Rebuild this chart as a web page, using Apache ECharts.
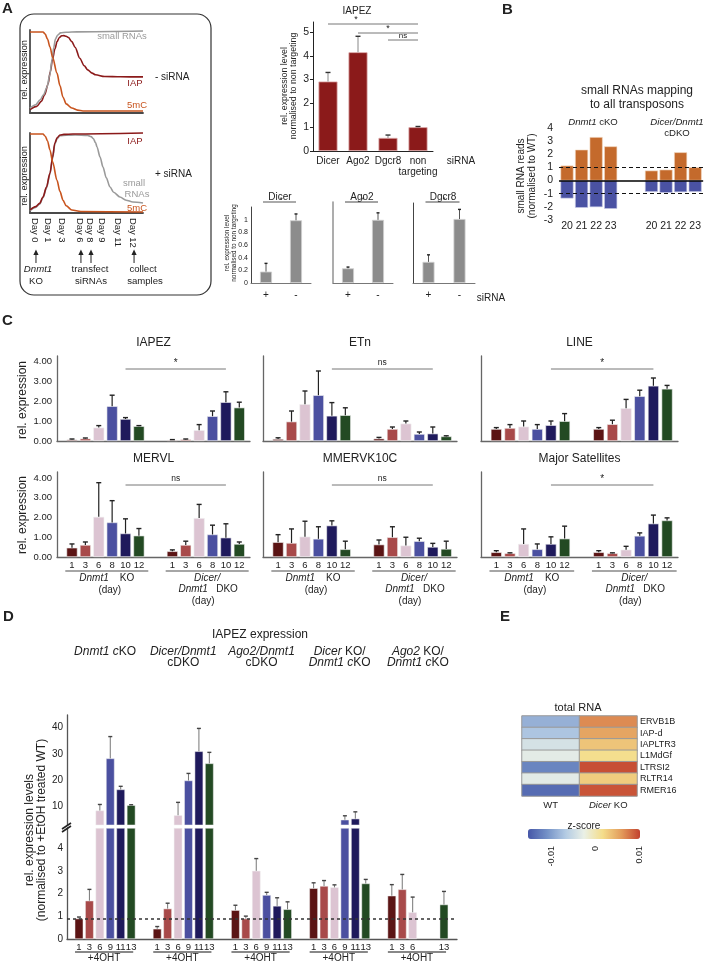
<!DOCTYPE html>
<html>
<head>
<meta charset="utf-8">
<script src="https://cdn.jsdelivr.net/npm/echarts@6.0.0/dist/echarts.min.js"></script>
<style>
html,body{margin:0;padding:0;background:#fff;}
#c{width:704px;height:964px;}
</style>
</head>
<body>
<div id="c"></div>
<script>
// ================= DATA =================
// Panel A schematic curves (x: 0-100 along timeline, y: 0-100 rel. expression)
const schemTopIAP   = [[0,4],[6,8],[10,14],[13,22],[16,35],[18,50],[20,65],[22,77],[24,86],[26,91],[28,93],[30,93.2],[32,92.5],[34,91],[37,86],[40,79],[44,66],[48,57],[51,52],[55,48],[58,46],[66,44],[80,43.6],[100,43.5]];
const schemTopSmall = [[0,6],[5,10],[9,16],[12,22],[15,31],[17.5,46],[19.5,64],[21,79],[22.5,89],[24.5,94],[27,96.5],[32,97.3],[41.6,97.8],[100,98.8]];
const schemTop5mC   = [[0,97.6],[11.5,97.6],[13.5,95],[15.5,89],[17.7,79.5],[20,67],[23.9,48],[26.5,33],[29.2,19],[32,11],[37,6],[42,3.5],[46.9,2.4],[100,2.4]];
const schemBotSmall = [[0,3],[5,7],[8.5,11],[11.5,19],[14.5,31],[17.7,49],[20,68],[22,86],[24,93],[26.5,96.5],[32,97.3],[40,97.5],[51,97],[54,95.5],[56,93],[58,88],[59.3,82.5],[62,70],[64.6,57.5],[67.5,44],[70.8,32.5],[74,26],[79.6,20],[85,16],[91,13.75],[100,12.5]];
const schemBotIAP   = [[0,3.75],[5,8],[8.5,12],[11.5,20],[14.5,32],[17.7,50],[20,70],[22,87.5],[24,94],[26.5,97.5],[30,98.3],[38,98.75],[100,100]];
const schemBot5mC   = [[0,98.75],[11.5,98.75],[13.5,96],[15.5,90],[17.7,78.75],[20,64],[23.9,41],[26.5,27],[29.2,16],[32,9],[37,3.75],[45,1.8],[100,1.25]];
const schemDays     = ['Day 0','Day 1','Day 3','Day 6','Day 8','Day 9','Day 11','Day 12'];
const schemDayPos   = [4.4,15.9,28.3,44.2,53.1,63.7,77.9,91.2];
const schemArrowDays = [0,3,4,7];

// Panel A siRNA knockdown
const aCats = ['Dicer','Ago2','Dgcr8','non\ntargeting'];
const aVals = [2.92,4.15,0.55,1.00];
const aErr  = [3.30,4.82,0.67,1.03];
const aSig  = ['*','*','ns'];
const aTicks = [0,1,2,3,4,5];
const kdCats = ['+','-'];
const kdTitles = ['Dicer','Ago2','Dgcr8'];
const kdDicer = [0.18,0.99], kdDicerErr = [0.31,1.09];
const kdAgo2  = [0.23,0.99], kdAgo2Err  = [0.25,1.10];
const kdDgcr8 = [0.33,1.00], kdDgcr8Err = [0.44,1.15];
const kdTicks = [0,0.2,0.4,0.6,0.8,1];

// Panel B
const bLen = ['20','21','22','23'];
const bDnmtUp   = [1.14,2.35,3.31,2.60];
const bDnmtDown = [-1.36,-2.07,-2.02,-2.15];
const bDicerUp   = [0.76,0.83,2.15,1.01];
const bDicerDown = [-0.86,-0.93,-0.88,-0.86];
const bThreshold = [1,-1];

// Panel C
const cDays   = ['1','3','6','8','10','12'];
const cTitles = ['IAPEZ','ETn','LINE','MERVL','MMERVK10C','Major Satellites'];
const cSig    = ['*','ns','*','ns','ns','*'];
const iapezKO  = [0.07,0.12,0.67,1.74,1.10,0.74], iapezKOErr  = [0.10,0.15,0.77,2.29,1.17,0.77];
const iapezDKO = [0.05,0.08,0.54,1.24,1.94,1.67], iapezDKOErr = [0.07,0.10,0.82,1.50,2.46,1.94];
const etnKO    = [0.10,0.97,1.84,2.29,1.26,1.29], etnKOErr    = [0.16,1.50,2.50,3.50,1.92,1.66];
const etnDKO   = [0.12,0.60,0.87,0.35,0.37,0.23], etnDKOErr   = [0.18,0.70,1.00,0.45,0.70,0.26];
const lineKO   = [0.60,0.65,0.72,0.60,0.79,0.99], lineKOErr   = [0.67,0.82,1.00,0.82,1.00,1.37];
const lineDKO  = [0.60,0.84,1.64,2.24,2.76,2.61], lineDKOErr  = [0.67,1.04,2.08,2.54,3.15,2.78];
const mervlKO  = [0.47,0.61,2.03,1.75,1.19,1.08], mervlKOErr  = [0.66,0.76,3.76,2.85,1.93,1.44];
const mervlDKO = [0.29,0.61,1.97,1.14,0.98,0.66], mervlDKOErr = [0.36,0.80,2.66,1.61,1.68,0.76];
const mmervKO  = [0.75,0.71,1.03,0.92,1.59,0.39], mmervKOErr  = [1.13,1.42,1.81,1.53,1.83,0.80];
const mmervDKO = [0.63,1.00,0.58,0.80,0.51,0.41], mmervDKOErr = [0.86,1.53,1.00,0.95,0.69,0.80];
const majsatKO = [0.24,0.19,0.66,0.39,0.66,0.93], majsatKOErr = [0.32,0.21,1.42,0.66,1.02,1.56];
const majsatDKO= [0.24,0.19,0.37,1.07,1.69,1.85], majsatDKOErr= [0.32,0.21,0.54,1.22,2.12,1.98];
const cTicks = [0,1,2,3,4];

// Panel D
const dDays = ['1','3','6','9','11','13'];
const dDnmt1   = [0.90,1.69,8.5,28.3,16.5,10.5],  dDnmt1Err   = [0.97,2.19,10.8,36.6,17.7,10.7];
const dDicer   = [0.45,1.34,6.7,19.9,31.0,26.4],  dDicerErr   = [0.55,1.58,11.6,22.6,39.7,30.6];
const dAgo2    = [1.27,0.90,3.01,1.94,1.46,1.31], dAgo2Err    = [1.49,1.01,3.55,2.06,1.82,1.64];
const dDicerKO = [2.24,2.34,2.28,5.0,5.4,2.45],   dDicerKOErr = [2.48,2.58,2.39,6.5,8.0,2.63];
const dAgo2KO  = [1.91,2.19,1.18,null,null,1.52], dAgo2KOErr  = [2.40,2.85,1.85,null,null,2.10];
const dLowTicks = [0,1,2,3,4];
const dHighTicks = [10,20,30,40];
const dBreak = 4.9;
const dRefLevel = 0.9;

// Panel E
const eRows = ['ERVB1B','IAP-d','IAPLTR3','L1MdGf','LTRSI2','RLTR14','RMER16'];
const eCols = ['WT','Dicer KO'];
const eWT = [-0.0048,-0.0036,-0.0013,-0.0004,-0.0073,-0.0005,-0.0088];
const eKO = [0.0073,0.0062,0.0046,0.0032,0.0095,0.0042,0.0093];
const zTicks = ['-0.01','0','0.01'];

// ================= STYLE / HELPERS =================
const FONT = '"Liberation Sans", Arial, Helvetica, sans-serif';
const TXT = '#222';
const PAL = ['#5B1414','#A84A4A','#DCC4D2','#4B50A0','#1F1A5C','#234A23'];
const C_IAP = '#8B1A1A', C_5MC = '#C8541E', C_GRAY = '#9a9a9a';

const grids = [], xAxes = [], yAxes = [], series = [], graphics = [];
function addCart(g, x, y){
  const i = grids.length;
  grids.push(g);
  xAxes.push(Object.assign({gridIndex:i}, x));
  yAxes.push(Object.assign({gridIndex:i}, y));
  return i;
}
function ax(type, extra){
  return Object.assign({type, axisLine:{show:false, onZero:false}, axisTick:{show:false},
    axisLabel:{show:false}, splitLine:{show:false}}, extra||{});
}
function aline(color, width){ return {show:true, onZero:false, lineStyle:{color, width}}; }
function lbl(o){ return Object.assign({show:true, fontFamily:FONT, color:TXT, fontSize:10}, o); }

function addErr(idx, pts, o){
  o = o||{};
  series.push({type:'custom', xAxisIndex:idx, yAxisIndex:idx, silent:true, z:4, data:pts,
    encode:{x:0, y:[1,2]}, clip:false,
    renderItem:(params, api)=>{
      const x = api.value(0), b = api.value(1), t = api.value(2);
      const p0 = api.coord([x,b]), p1 = api.coord([x,t]);
      const cw = o.cap||5;
      return {type:'group', children:[
        {type:'line', shape:{x1:p0[0],y1:p0[1],x2:p1[0],y2:p1[1]}, style:{stroke:o.color||'#222', lineWidth:o.lw||1}},
        {type:'line', shape:{x1:p1[0]-cw/2,y1:p1[1],x2:p1[0]+cw/2,y2:p1[1]}, style:{stroke:o.capColor||o.color||'#222', lineWidth:o.capLw||1.4}}
      ]};
    }});
}
function T(x, y, text, o){
  o = o||{};
  const size = o.size||10, col = o.color||TXT;
  const st = {text, fill:col, fontSize:size, fontFamily:FONT,
    fontStyle:o.italic?'italic':'normal', fontWeight:o.bold?'bold':'normal',
    align:o.align||'center', verticalAlign:o.va||'middle'};
  if (o.lh) st.lineHeight = o.lh;
  if (text.indexOf('{i|')>=0) st.rich = {i:{fontStyle:'italic', fontSize:size, fontFamily:FONT, fill:col, color:col}};
  graphics.push({type:'text', x, y, rotation:o.rot||0, z:100, silent:true, style:st});
}
function L(x1,y1,x2,y2,color,w,dash){
  graphics.push({type:'line', z:100, silent:true, shape:{x1,y1,x2,y2}, style:{stroke:color||'#333', lineWidth:w||1, lineDash:dash||null}});
}

// ================= PANEL A: schematic =================
const sTop = addCart({left:30, top:30, width:113, height:83},
  ax('value',{min:0,max:100, axisLine:aline('#4a4a4a',1.8)}),
  ax('value',{min:0,max:100, axisLine:aline('#4a4a4a',1.8)}));
const sBot = addCart({left:30, top:133, width:113, height:80},
  ax('value',{min:0,max:100, axisLine:aline('#4a4a4a',1.8)}),
  ax('value',{min:0,max:100, axisLine:aline('#4a4a4a',1.8)}));
function curve(idx, data, color){
  series.push({type:'line', xAxisIndex:idx, yAxisIndex:idx, data, smooth:0.3, smoothMonotone:'x',
    symbol:'none', silent:true, clip:false, lineStyle:{color, width:1.6}, z:2});
}
curve(sTop, schemTopIAP, C_IAP); curve(sTop, schemTopSmall, C_GRAY); curve(sTop, schemTop5mC, C_5MC);
curve(sBot, schemBotSmall, C_GRAY); curve(sBot, schemBotIAP, C_IAP); curve(sBot, schemBot5mC, C_5MC);

// ================= PANEL A: IAPEZ siRNA =================
const iA = addCart({left:313, top:22, width:120, height:129},
  ax('category',{data:aCats, axisLine:aline('#222',1), axisLabel:lbl({interval:0, fontSize:10, margin:5, lineHeight:11})}),
  ax('value',{min:0, max:5.42, axisLine:aline('#222',1),
    axisTick:{show:true, length:3, customValues:aTicks, lineStyle:{color:'#222'}},
    axisLabel:lbl({customValues:aTicks, fontSize:10.5, margin:4})}));
series.push({type:'bar', xAxisIndex:iA, yAxisIndex:iA, data:aVals, barWidth:19, silent:true,
  itemStyle:{color:C_IAP, borderColor:'#d9a3a3', borderWidth:0.8}});
addErr(iA, aVals.map((v,i)=>[i,v,aErr[i]]), {color:'#888', capColor:'#333', cap:5});

// knockdown efficiency
const kdSets = [[kdDicer,kdDicerErr],[kdAgo2,kdAgo2Err],[kdDgcr8,kdDgcr8Err]];
const kdGrid = [{left:251,top:207,width:60,height:76,max:1.2},{left:333,top:202,width:60,height:81,max:1.27},{left:413,top:203,width:62,height:80,max:1.25}];
const kdIdx = kdSets.map((s,k)=>{
  const g = kdGrid[k];
  const idx = addCart({left:g.left, top:g.top, width:g.width, height:g.height},
    ax('category',{data:kdCats, axisLine:aline('#777',1), axisLabel:lbl({fontSize:10, margin:7})}),
    ax('value',{min:0, max:g.max, axisLine:aline(k===1?'#999':'#444', k===1?1.6:1),
      axisLabel: k===0 ? lbl({customValues:kdTicks, fontSize:7, margin:3}) : {show:false}}));
  series.push({type:'bar', xAxisIndex:idx, yAxisIndex:idx, data:s[0], barWidth:12, silent:true,
    itemStyle:{color:'#8c8c8c', borderColor:'#cfcfcf', borderWidth:0.8}});
  addErr(idx, s[0].map((v,i)=>[i,v,s[1][i]]), {color:'#555', capColor:'#222', cap:3});
  return idx;
});

// ================= PANEL B =================
const bPos = (g,i)=> g*5.8 + i;
const bLabelPos = [0,1,2,3].map(i=>bPos(0,i)).concat([0,1,2,3].map(i=>bPos(1,i)));
const iB = addCart({left:559, top:128, width:145, height:92},
  ax('value',{min:-0.55, max:9.35,
    axisLabel:lbl({customValues:bLabelPos, fontSize:10.5, margin:1,
      formatter:(v)=>{ const k = bLabelPos.findIndex(p=>Math.abs(p-v)<1e-6); return k<0?'':bLen[k%4]; }})}),
  ax('value',{min:-3, max:4, interval:1, axisLabel:lbl({fontSize:10.5, margin:6})}));
series.push({type:'bar', xAxisIndex:iB, yAxisIndex:iB, barWidth:13, barGap:'-100%', silent:true,
  data: bDnmtUp.map((v,i)=>[bPos(0,i),v]).concat(bDicerUp.map((v,i)=>[bPos(1,i),v])),
  itemStyle:{color:'#C46A2C', borderColor:'#f2d6bf', borderWidth:0.6},
  markLine:{silent:true, symbol:['none','none'], label:{show:false},
    data: bThreshold.map(t=>({yAxis:t, lineStyle:{color:'#111', width:1.2, type:[4,3]}}))
      .concat([{yAxis:0, lineStyle:{color:'#000', width:1.6, type:'solid'}}])}});
series.push({type:'bar', xAxisIndex:iB, yAxisIndex:iB, barWidth:13, barGap:'-100%', silent:true,
  data: bDnmtDown.map((v,i)=>[bPos(0,i),v]).concat(bDicerDown.map((v,i)=>[bPos(1,i),v])),
  itemStyle:{color:'#4A52A3', borderColor:'#c7c9e6', borderWidth:0.6}});

// ================= PANEL C =================
const cSets = [[iapezKO,iapezKOErr,iapezDKO,iapezDKOErr],[etnKO,etnKOErr,etnDKO,etnDKOErr],[lineKO,lineKOErr,lineDKO,lineDKOErr],
               [mervlKO,mervlKOErr,mervlDKO,mervlDKOErr],[mmervKO,mmervKOErr,mmervDKO,mmervDKOErr],[majsatKO,majsatKOErr,majsatDKO,majsatDKOErr]];
const cPos = (g,i)=> g*7.5 + i + 1;
const cLabelPos = [];
for (let g=0; g<2; g++) for (let i=0; i<6; i++) cLabelPos.push(cPos(g,i));
const cCols = [{left:57,w:193},{left:263,w:194},{left:481,w:197}];
const cRowsG = [{top:356,h:85,max:4.25},{top:472,h:85,max:4.3}];
const cIdx = cSets.map((s,k)=>{
  const r = Math.floor(k/3), c = k%3;
  const idx = addCart({left:cCols[c].left, top:cRowsG[r].top, width:cCols[c].w, height:cRowsG[r].h},
    ax('value',{min:-0.12, max:14.3, axisLine:aline('#666',1.3),
      axisLabel: r===1 ? lbl({customValues:cLabelPos, fontSize:9.5, margin:3,
        formatter:(v)=>{ const q = cLabelPos.findIndex(p=>Math.abs(p-v)<1e-6); return q<0?'':cDays[q%6]; }}) : {show:false}}),
    ax('value',{min:0, max:cRowsG[r].max, axisLine:aline('#666',1.3),
      axisLabel: c===0 ? lbl({customValues:cTicks, fontSize:9.5, margin:5, formatter:(v)=>Number(v).toFixed(2)}) : {show:false}}));
  const data = [], err = [];
  [0,1].forEach(g=>{
    const vals = s[g*2], errs = s[g*2+1];
    vals.forEach((v,i)=>{
      data.push({value:[cPos(g,i), v], itemStyle:{color:PAL[i]}});
      err.push([cPos(g,i), v, errs[i]]);
    });
  });
  series.push({type:'bar', xAxisIndex:idx, yAxisIndex:idx, data, barWidth:11, silent:true,
    itemStyle:{borderColor:'#f0f0f0', borderWidth:0.6}});
  addErr(idx, err, {color:'#222', cap:5, lw:1.2});
  return idx;
});

// ================= PANEL D =================
const dSets = [[dDnmt1,dDnmt1Err],[dDicer,dDicerErr],[dAgo2,dAgo2Err],[dDicerKO,dDicerKOErr],[dAgo2KO,dAgo2KOErr]];
const dPos = (g,i)=> g*7.5 + i + 1;
const dLabelPos = [];
dSets.forEach((s,g)=> s[0].forEach((v,i)=>{ if (v!=null) dLabelPos.push(dPos(g,i)); }));
const dLabelTxt = [];
dSets.forEach((s,g)=> s[0].forEach((v,i)=>{ if (v!=null) dLabelTxt.push(dDays[i]); }));
const iDHi = addCart({left:67, top:715, width:390, height:110},
  ax('value',{min:-0.15, max:37.25}),
  ax('value',{min:3, max:44.8, axisLine:aline('#555',1.3), axisLabel:lbl({customValues:dHighTicks, fontSize:10, margin:4})}));
const iDLo = addCart({left:67, top:828, width:390, height:111},
  ax('value',{min:-0.15, max:37.25, axisLine:aline('#555',1.3),
    axisLabel:lbl({customValues:dLabelPos, fontSize:9.5, margin:3,
      formatter:(v)=>{ const q = dLabelPos.findIndex(p=>Math.abs(p-v)<1e-6); return q<0?'':dLabelTxt[q]; }})}),
  ax('value',{min:0, max:dBreak, axisLine:aline('#555',1.3), axisLabel:lbl({customValues:dLowTicks, fontSize:10, margin:4})}));
const dLo = [], dHi = [], dLoErr = [], dHiErr = [];
dSets.forEach((s,g)=>{
  s[0].forEach((v,i)=>{
    if (v==null) return;
    const x = dPos(g,i), e = s[1][i];
    dLo.push({value:[x, Math.min(v,dBreak)], itemStyle:{color:PAL[i]}});
    if (v > dBreak) { dHi.push({value:[x, v], itemStyle:{color:PAL[i]}}); dHiErr.push([x, v, e]); }
    else dLoErr.push([x, v, e]);
  });
});
series.push({type:'bar', xAxisIndex:iDLo, yAxisIndex:iDLo, data:dLo, barWidth:8.5, silent:true,
  itemStyle:{borderColor:'#f0f0f0', borderWidth:0.5},
  markLine:{silent:true, symbol:['none','none'], label:{show:false},
    data:[{yAxis:dRefLevel}], lineStyle:{color:'#333', width:1.5, type:[3,3]}}});
series.push({type:'bar', xAxisIndex:iDHi, yAxisIndex:iDHi, data:dHi, barWidth:8.5, silent:true,
  itemStyle:{borderColor:'#f0f0f0', borderWidth:0.5}});
addErr(iDLo, dLoErr, {color:'#777', capColor:'#444', cap:4});
addErr(iDHi, dHiErr, {color:'#777', capColor:'#444', cap:4});

// ================= PANEL E =================
const iE = addCart({left:522, top:716, width:115, height:80},
  ax('category',{data:eCols, axisLabel:lbl({fontSize:9.5, margin:4, interval:0,
    formatter:(v)=> v==='Dicer KO' ? '{i|Dicer} KO' : v,
    rich:{i:{fontStyle:'italic', fontSize:9.5, fontFamily:FONT, color:TXT}}})}),
  ax('category',{data:eRows, inverse:true, position:'right', axisLabel:lbl({fontSize:9, margin:3, interval:0})}));
const heatData = [];
eRows.forEach((r,j)=>{ heatData.push([0,j,eWT[j]]); heatData.push([1,j,eKO[j]]); });
const heatSeriesIndex = series.length;
series.push({type:'heatmap', xAxisIndex:iE, yAxisIndex:iE, data:heatData, silent:true,
  itemStyle:{borderColor:'#999', borderWidth:1}});

// ================= RENDER =================
const chart = echarts.init(document.getElementById('c'), null, {renderer:'canvas', width:704, height:964});
chart.setOption({
  animation:false, backgroundColor:'#fff', textStyle:{fontFamily:FONT},
  grid:grids, xAxis:xAxes, yAxis:yAxes, series,
  visualMap:[{type:'continuous', min:-0.01, max:0.01, seriesIndex:heatSeriesIndex, orient:'horizontal',
    left:528, top:829, itemWidth:10, itemHeight:112, padding:0, calculable:false, hoverLink:false, text:null,
    inRange:{color:['#4657A8','#7390C6','#B2CAE3','#EAF0E6','#F4DD8A','#E39C5C','#C2412E']}}]
});

const px = (idx, x, y) => chart.convertToPixel({gridIndex:idx}, [x, y]);

// --- panel letters
T(2, 9, 'A', {size:15, bold:true, align:'left'});
T(502, 10, 'B', {size:15, bold:true, align:'left'});
T(2, 321, 'C', {size:15, bold:true, align:'left'});
T(3, 617, 'D', {size:15, bold:true, align:'left'});
T(500, 617, 'E', {size:15, bold:true, align:'left'});

// --- Panel A schematic annotations
graphics.push({type:'rect', z:90, silent:true, shape:{x:20, y:14, width:191, height:281, r:14}, style:{fill:null, stroke:'#333', lineWidth:1.2}});
T(24, 70, 'rel. expression', {size:9.2, rot:Math.PI/2});
T(24, 176, 'rel. expression', {size:9.2, rot:Math.PI/2});
T(122, 36, 'small RNAs', {size:9.5, color:'#9a9a9a'});
T(135, 83, 'IAP', {size:9.5, color:C_IAP});
T(155, 77, '- siRNA', {size:10, align:'left'});
T(137, 105, '5mC', {size:9.5, color:C_5MC});
T(135, 141, 'IAP', {size:9.5, color:C_IAP});
T(155, 174, '+ siRNA', {size:10, align:'left'});
T(134, 183, 'small', {size:9.5, color:'#9a9a9a'});
T(137, 194, 'RNAs', {size:9.5, color:'#9a9a9a'});
T(137, 208, '5mC', {size:9.5, color:C_5MC});
schemDays.forEach((d,i)=>{
  const p = px(sBot, schemDayPos[i], 0);
  T(p[0], 218, d, {size:9.4, rot:-Math.PI/2, align:'left'});
});
schemArrowDays.forEach(k=>{
  const x = px(sBot, schemDayPos[k], 0)[0] + 1;
  L(x, 263, x, 254, '#222', 1);
  graphics.push({type:'polygon', z:100, silent:true, shape:{points:[[x-2.6,255],[x+2.6,255],[x,249.5]]}, style:{fill:'#222'}});
});
T(38, 269, 'Dnmt1', {size:9.6, italic:true});
T(36, 281, 'KO', {size:9.6});
T(90, 269, 'transfect', {size:9.6});
T(91, 281, 'siRNAs', {size:9.6});
T(143, 269, 'collect', {size:9.6});
T(145, 281, 'samples', {size:9.6});

// --- Panel A IAPEZ
T(357, 11, 'IAPEZ', {size:10});
T(285, 86, 'rel. expression level', {size:8.8, rot:Math.PI/2});
T(294, 86, 'normalised to non targeting', {size:8.8, rot:Math.PI/2});
T(461, 161, 'siRNA', {size:10});
{
  const xs = aCats.map((c,i)=>px(iA, i, 0)[0]);
  const ly = [24, 33, 40];
  [[0,3],[1,3],[2,3]].forEach((pr,k)=>{
    L(xs[pr[0]], ly[k], xs[pr[1]], ly[k], '#666', 0.9);
    const sx = k===0 ? xs[0] + (xs[1]-xs[0])*0.93 : (xs[pr[0]]+xs[pr[1]])/2;
    T(sx, ly[k]-4, aSig[k], {size:aSig[k]==='ns'?8:9});
  });
}
// knockdown
kdIdx.forEach((idx,k)=>{
  const x0 = px(idx, 0, 0)[0], x1 = px(idx, 1, 0)[0];
  T((x0+x1)/2 - 1, 197, kdTitles[k], {size:10});
  L(x0-3, 202, x1, 202, k===0?'#aaa':'#333', k===0?2:0.9);
  T((x0+x1)/2, 200, '*', {size:7});
});
T(227, 243, 'rel. expression level', {size:6.4, rot:Math.PI/2});
T(234, 243, 'normalised to non targeting', {size:6.4, rot:Math.PI/2});
T(491, 298, 'siRNA', {size:10});

// --- Panel B
T(637, 91, 'small RNAs mapping', {size:12});
T(637, 105, 'to all transposons', {size:12});
T(593, 122, '{i|Dnmt1} cKO', {size:9.6});
T(677, 122, 'Dicer/Dnmt1', {size:9.6, italic:true});
T(677, 133, 'cDKO', {size:9.6});
T(521, 176, 'small RNA reads', {size:10, rot:Math.PI/2});
T(532, 176, '(normalised to WT)', {size:10, rot:Math.PI/2});

// --- Panel C
cIdx.forEach((idx,k)=>{
  const r = Math.floor(k/3), c = k%3;
  const cx = cCols[c].left + cCols[c].w/2;
  T(cx, r===0?343:459, cTitles[k], {size:12});
  const ly = r===0 ? 369 : 485;
  const a = px(idx, cPos(0,4), 0)[0], b = px(idx, cPos(1,4), 0)[0];
  L(a, ly, b, ly, '#777', 1);
  T((a+b)/2, ly-6, cSig[k], {size:cSig[k]==='ns'?8.5:10});
  if (r===1) {
    const u0a = px(idx, cPos(0,0)-0.5, 0)[0], u0b = px(idx, cPos(0,5)+0.7, 0)[0];
    const u1a = px(idx, cPos(1,0)-0.5, 0)[0], u1b = px(idx, cPos(1,5)+0.7, 0)[0];
    L(u0a, 571, u0b, 571, '#888', 1.5);
    L(u1a, 571, u1b, 571, '#888', 1.5);
    const m0 = (u0a+u0b)/2, m1 = (u1a+u1b)/2;
    T(m0, 578, '{i|Dnmt1}    KO', {size:10});
    T(m0+3, 590, '(day)', {size:10});
    T(m1, 578, 'Dicer/', {size:10, italic:true});
    T(m1+1, 589, '{i|Dnmt1}   DKO', {size:10});
    T(m1-4, 601, '(day)', {size:10});
  }
});
T(23, 400, 'rel. expression', {size:12, rot:Math.PI/2});
T(23, 515, 'rel. expression', {size:12, rot:Math.PI/2});

// --- Panel D
T(260, 635, 'IAPEZ expression', {size:12});
{
  const gt = [['{i|Dnmt1 c}KO', null], ['Dicer/Dnmt1','cDKO'], ['Ago2/Dnmt1','cDKO'], ['{i|Dicer} KO/','{i|Dnmt1 c}KO'], ['{i|Ago2} KO/','{i|Dnmt1 c}KO']];
  gt.forEach((t,g)=>{
    const cx = px(iDLo, dPos(g,0)+2.5, 0)[0];
    const italicFull = (g===1 || g===2);
    T(cx, 652, t[0], {size:12, italic:italicFull});
    if (t[1]) T(cx, 663, t[1], {size:12});
    const ua = px(iDLo, dPos(g,0)-0.38, 0)[0], ub = px(iDLo, dPos(g,5)+0.2, 0)[0];
    L(ua, 952, ub, 952, '#888', 2);
    T((ua+ub)/2, 958, '+4OHT', {size:10});
  });
}
T(30, 830, 'rel. expression levels', {size:12, rot:Math.PI/2});
T(42, 830, '(normalised to +EtOH treated WT)', {size:12, rot:Math.PI/2});
L(62, 829, 71, 823, '#222', 1.6);
L(62, 832, 71, 826, '#222', 1.6);

// --- Panel E
T(578, 708, 'total RNA', {size:11});
T(584, 826, 'z-score', {size:10});
[552, 596, 640].forEach((x,k)=> T(x, 846, zTicks[k], {size:9, rot:Math.PI/2, align:'right'}));

chart.setOption({graphic: graphics});
</script>
</body>
</html>
